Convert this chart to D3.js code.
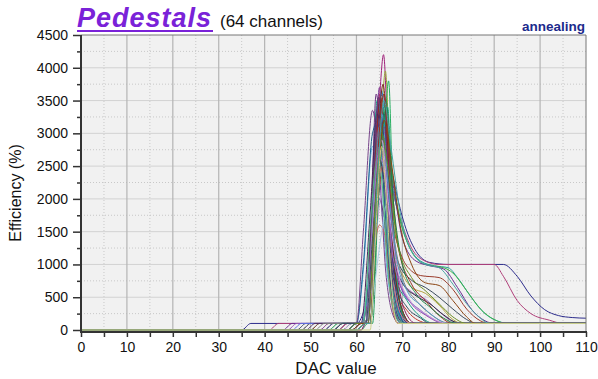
<!DOCTYPE html>
<html><head><meta charset="utf-8">
<script src="https://cdn.jsdelivr.net/npm/d3@7"></script>
<style>
html,body{margin:0;padding:0;background:#fff;}
text{font-family:"Liberation Sans",Arial,sans-serif;}
</style></head>
<body><svg id="c" width="598" height="379"></svg>
<script>
const titleMain = "Pedestals";
const titleSub = "(64 channels)";
const tagText = "annealing";
const xLabel = "DAC value";
const yLabel = "Efficiency (%)";
const xTicks = [0,10,20,30,40,50,60,70,80,90,100,110];
const xMinor = [5,15,25,35,45,55,65,75,85,95,105];
const yTicks = [0,500,1000,1500,2000,2500,3000,3500,4000,4500];
const yMinor = [250,750,1250,1750,2250,2750,3250,3750,4250];

// 64 channels, [DAC, efficiency] points
const channels = [
[[0,0],[35,0],[37,100],[60,100],[62,400],[64,2600],[65.5,3300],[67,2700],[69,2000],[71,1500],[73,1200],[76,1030],[80,1000],[92,1000],[95,820],[98,520],[101,310],[104,220],[107,190],[110,180]],
[[0,0],[41,0],[43,100],[61,100],[63,800],[65,3000],[66.5,2700],[68,2100],[70,1600],[72,1250],[75,1050],[78,1000],[90,1000],[92,820],[95,450],[98,250],[102,150],[105,100],[110,100]],
[[0,0],[50,0],[52,100],[62,100],[64,2000],[65.5,3100],[67,2500],[69,1800],[71,1350],[74,1050],[77,980],[80,950],[82,800],[85,500],[88,250],[91,130],[93,100],[110,100]],
[[0,0],[55,0],[57,100],[62,100],[64,1800],[66,3200],[67.5,2500],[69.5,1700],[72,1200],[75,1000],[79,950],[81,870],[84,600],[87,320],[90,160],[93,100],[110,100]],
[[0,0],[44,0],[46,100],[61.5,100],[63,1500],[64.5,3400],[65.8,3600],[67,2700],[68.5,2000],[70,1400],[73,1050],[76,980],[79,930],[82,650],[85,320],[88,140],[90,100],[110,100]],
[[0,0],[50,0],[52,100],[62,100],[63.5,1800],[65,3000],[66.5,2400],[68,1600],[70,1100],[72,900],[74,830],[78,800],[81,620],[84,320],[87,140],[89,100],[110,100]],
[[0,0],[47,0],[49,100],[62,100],[64,2500],[65.5,3200],[67,2000],[69,1050],[72,760],[75,650],[78,500],[81,320],[84,160],[86,100],[110,100]],
[[0,0],[52,0],[54,100],[62,100],[63.5,1700],[65,2900],[66.5,2000],[68,1200],[70,850],[72,650],[75,560],[78,380],[81,160],[83,100],[110,100]],
[[0,0],[45,0],[47,100],[62,100],[64,2200],[65.5,3100],[67,2000],[69,850],[72,580],[75,470],[78,280],[81,130],[83,100],[110,100]],
[[0,0],[48,0],[50,100],[62,100],[63.5,1900],[65,3300],[66.5,2300],[68,1100],[70,720],[73,520],[76,400],[79,230],[82,110],[84,100],[110,100]],
[[0,0],[46,0],[48,100],[61,100],[63,900],[65,2900],[66,2500],[68,1200],[70,600],[73,350],[76,200],[79,100],[110,100]],
[[0,0],[52,0],[54,100],[62,100],[64,1500],[65.5,3400],[67,1900],[69,800],[72,400],[75,230],[78,120],[80,100],[110,100]],
[[0,0],[56,0],[58,100],[61,100],[63,1200],[64.5,3500],[66,2300],[68,900],[71,450],[74,200],[77,100],[110,100]],
[[0,0],[57,0],[59,100],[62,100],[64,2200],[65,3600],[66.5,2100],[68,700],[71,300],[74,130],[76,100],[110,100]],
[[0,0],[58,0],[60,100],[62,100],[63.5,1500],[65,3000],[66,2000],[67.5,600],[69,150],[70,100],[110,100]],
[[0,0],[59,0],[61,100],[62,100],[64,2500],[65,3700],[66,2400],[68,500],[70,100],[110,100]],
[[0,0],[53,0],[55,100],[60,100],[61.5,900],[63.5,2800],[65,2200],[67,700],[69,150],[70,100],[110,100]],
[[0,0],[54,0],[56,100],[62,100],[63,700],[65,2600],[66,3100],[67,1800],[69,400],[71,100],[110,100]],
[[0,0],[56,0],[58,100],[62,100],[64,2300],[65,3500],[65.9,4200],[67,2500],[68,1000],[70,250],[72,100],[110,100]],
[[0,0],[60,0],[62,100],[63,100],[64,1500],[65.5,3300],[66.3,3950],[67.5,2000],[69,500],[71,100],[110,100]],
[[0,0],[60,0],[62,100],[63,100],[65,2400],[66.3,3300],[67,3800],[68,1800],[69.5,400],[71,100],[110,100]],
[[0,0],[58,0],[60,100],[62,100],[63,1200],[64.3,3600],[65.5,2700],[67,900],[69,200],[70,100],[110,100]],
[[0,0],[55,0],[57,100],[60,100],[61.5,1000],[63.5,3000],[64.8,3200],[66.5,1500],[68,400],[70,100],[110,100]],
[[0,0],[57,0],[59,100],[62,100],[63.5,1800],[65,3300],[66,2800],[67.5,900],[69.5,200],[71,100],[110,100]],
[[0,0],[59,0],[61,100],[62,100],[63.5,1000],[65,2300],[66,2800],[67,1600],[69,300],[70,100],[110,100]],
[[0,0],[61,0],[62,100],[63,100],[64,1400],[65.5,2900],[66.5,2600],[68,800],[70,150],[71,100],[110,100]],
[[0,0],[58,0],[60,100],[61,100],[62.5,800],[64,2100],[65,2700],[66,1600],[68,300],[69,100],[110,100]],
[[0,0],[49,0],[51,100],[62,100],[63.5,2000],[65,3450],[66,2900],[67.5,1100],[69,250],[70.5,100],[110,100]],
[[0,0],[56,0],[58,100],[62,100],[64,2600],[65.3,3550],[66.5,2200],[68,600],[70,100],[110,100]],
[[0,0],[60,0],[62,100],[63,100],[64.5,1800],[66,3000],[67,2200],[68.5,700],[70,150],[71,100],[110,100]],
[[0,0],[57,0],[59,100],[62,100],[63.5,1400],[64.8,2500],[66,1800],[67.5,500],[69,100],[110,100]],
[[0,0],[58,0],[60,100],[62,100],[63.5,1200],[65,2000],[66,1700],[67.5,600],[69,150],[70,100],[110,100]],
[[0,0],[59,0],[61,100],[62,100],[64,1900],[65.5,3650],[66.5,2600],[68,900],[69.5,200],[71,100],[110,100]],
[[0,0],[55,0],[57,100],[60,100],[61.5,1500],[63.5,3350],[65,2400],[66.5,800],[68.5,150],[69.5,100],[110,100]],
[[0,0],[60,0],[62,100],[63,100],[64,1300],[65.2,2300],[66.5,3100],[68,1200],[70,300],[72,100],[110,100]],
[[0,0],[61,0],[62.5,100],[63.5,100],[65,2500],[66.5,3500],[67.5,2100],[69,600],[71,120],[72,100],[110,100]],
[[0,0],[57,0],[59,100],[62,100],[63.5,900],[65,1900],[66,2300],[67.5,1000],[69.5,250],[71,100],[110,100]],
[[0,0],[58,0],[60,100],[62,100],[64,2000],[65,2900],[66,3300],[67,2300],[68.5,700],[70.5,100],[110,100]],
[[0,0],[59,0],[61,100],[62,100],[63.5,1600],[65,2700],[66.3,2200],[68,500],[70,100],[110,100]],
[[0,0],[53,0],[55,100],[61,100],[63,1800],[64.5,3300],[66,2500],[67.5,900],[69.5,150],[71,100],[110,100]],
[[0,0],[60,0],[62,100],[63,100],[64.5,1700],[65.8,3000],[66.8,3400],[68,1500],[70,300],[72,100],[110,100]],
[[0,0],[56,0],[58,100],[62,100],[63.5,1000],[65,1600],[66,1500],[67.5,500],[69,100],[110,100]],
[[0,0],[61,0],[62,100],[63,100],[64,700],[65.5,1500],[66.5,1900],[68,900],[70,200],[71.5,100],[110,100]],
[[0,0],[58,0],[60,100],[62,100],[63.5,2000],[64.8,3550],[66,2700],[67.5,1000],[69,250],[70.5,100],[110,100]],
[[0,0],[57,0],[59,100],[62,100],[64,2300],[65.5,3200],[66.5,2400],[68,800],[70,150],[71,100],[110,100]],
[[0,0],[59,0],[61,100],[63,100],[64.5,2600],[65.8,3750],[66.8,2800],[68,1200],[70,300],[72,100],[110,100]],
[[0,0],[54,0],[56,100],[61.5,100],[63,1600],[64.5,2600],[65.5,2300],[67,800],[69,150],[70,100],[110,100]],
[[0,0],[60,0],[62,100],[62.5,100],[64,1500],[65.5,2600],[66.5,2300],[68,900],[70,200],[72,100],[110,100]],
[[0,0],[58,0],[60,100],[62,100],[63.5,1300],[65,2800],[66,3000],[67.5,1300],[69.5,300],[71.5,100],[110,100]],
[[0,0],[61,0],[62,100],[63,100],[64.5,2000],[66,3100],[67,2500],[68.5,1100],[70.5,300],[73,100],[110,100]],
[[0,0],[57,0],[59,100],[62,100],[63,1000],[64.5,2400],[65.5,2900],[67,1200],[69,250],[70.5,100],[110,100]],
[[0,0],[59,0],[61,100],[62.5,100],[64,2100],[65.3,3300],[66.3,2700],[68,900],[70,200],[71.5,100],[110,100]],
[[0,0],[60,0],[62,100],[63,100],[64,1300],[65.5,2500],[66.5,2100],[68,800],[70,200],[72,100],[110,100]],
[[0,0],[51,0],[53,100],[62,100],[63.5,1700],[65,3100],[66.5,2500],[68,1500],[70,800],[73,450],[76,250],[79,120],[81,100],[110,100]],
[[0,0],[58,0],[60,100],[62,100],[64,2200],[65.5,3300],[67,2100],[69,1000],[71,600],[74,380],[77,200],[80,100],[110,100]],
[[0,0],[59,0],[61,100],[63,100],[64.5,2500],[66,3600],[67.5,2400],[69,1300],[72,700],[75,450],[78,220],[81,100],[110,100]],
[[0,0],[56,0],[58,100],[62,100],[63.5,1600],[65,2800],[66.5,2200],[68,1100],[71,500],[74,300],[77,150],[79,100],[110,100]],
[[0,0],[60,0],[62,100],[63,100],[65,2400],[66.5,3400],[68,2000],[70,1000],[73,550],[76,350],[79,180],[82,100],[110,100]],
[[0,0],[57,0],[59,100],[62,100],[64,2000],[65.5,2900],[67,1900],[69,900],[72,420],[75,250],[78,130],[80,100],[110,100]],
[[0,0],[55,0],[57,100],[62,100],[63.5,1400],[65,2600],[66.5,2000],[68,800],[71,350],[74,180],[76,100],[110,100]],
[[0,0],[58,0],[60,100],[62.5,100],[64,1800],[65.5,3000],[67,2400],[69,1300],[72,800],[75,600],[78,400],[81,200],[84,100],[110,100]],
[[0,0],[59,0],[61,100],[63,100],[64.5,2000],[66,3200],[67.5,2600],[69.5,1600],[72,1000],[75,720],[78,680],[81,450],[84,200],[86,100],[110,100]],
[[0,0],[60,0],[62,100],[63,100],[64.5,2200],[66,3500],[67.5,2800],[69.5,1800],[72,1200],[75,1000],[78,950],[81,700],[84,400],[87,180],[89,100],[110,100]],
[[0,0],[63,0],[64,1200],[65.5,2800],[66.5,2000],[68,400],[69,100],[110,100]]
];

const lineColors = ["#2c2c8c","#b0407a","#2a9d9a","#3cb44b","#6a2c91","#9a3b2b","#3a4a5a","#b5a642",
"#9b59b6","#2b2b3b","#5b6ee1","#8e44ad","#16a085","#c0392b","#2980b9","#7d3c98",
"#5dade2","#1e8449","#a0207a","#9aa83a","#27ae60","#6c3483","#1f618d","#b03a2e",
"#48c9b0","#884ea0","#85c1e9","#512e5f","#922b21","#117a65","#aab7b8","#5b2c6f",
"#2e86c1","#76448a","#a93226","#239b56","#c39bd3","#1a5276","#7fb3d5","#4a235a",
"#17a589","#cd6155","#a9cce3","#633974","#2874a6","#78281f","#52be80","#af7ac5",
"#154360","#8e1e5e","#45b39d","#3e2c8f","#d98880","#7b7d7d","#5499c7","#943126",
"#a569bd","#1d8348","#c9a0dc","#34495e","#6b8e23","#8b4513","#4aa3a3","#cfd08a"];

const svg = d3.select("#c");
const L = 81, R = 586, T = 35, B = 332;
const x = d3.scaleLinear().domain([0,110]).range([L,R]);
const y = d3.scaleLinear().domain([0,4500]).range([330,T]);

// plot background
svg.append("rect").attr("x",L).attr("y",T).attr("width",R-L).attr("height",B-T).attr("fill","#f1f1f1");

// grid
const g = svg.append("g");
g.selectAll(".vmin").data(xMinor).join("line")
  .attr("x1",d=>x(d)).attr("x2",d=>x(d)).attr("y1",T).attr("y2",B)
  .attr("stroke","#c8c8c8").attr("stroke-dasharray","1,2");
g.selectAll(".hmin").data(yMinor).join("line")
  .attr("x1",L).attr("x2",R).attr("y1",d=>y(d)).attr("y2",d=>y(d))
  .attr("stroke","#c8c8c8").attr("stroke-dasharray","1,2");
g.selectAll(".hmaj").data(yTicks.filter(d=>d>0 && d<4500)).join("line")
  .attr("x1",L).attr("x2",R).attr("y1",d=>y(d)).attr("y2",d=>y(d))
  .attr("stroke","#d2d2d2");
g.selectAll(".vmaj").data(xTicks.filter(d=>d>0 && d<110)).join("line")
  .attr("x1",d=>x(d)).attr("x2",d=>x(d)).attr("y1",T).attr("y2",B)
  .attr("stroke","#b4b4b4").attr("stroke-width",1.2);

// curves
svg.append("clipPath").attr("id","clip").append("rect")
  .attr("x",L).attr("y",T).attr("width",R-L).attr("height",B-T);
const line = d3.line().x(d=>x(d[0])).y(d=>y(d[1])).curve(d3.curveMonotoneX);
svg.append("g").attr("clip-path","url(#clip)")
  .selectAll("path").data(channels).join("path")
  .attr("d",line).attr("fill","none")
  .attr("stroke",(d,i)=>lineColors[i]).attr("stroke-width",1);

// frame top/right
svg.append("line").attr("x1",L).attr("x2",R).attr("y1",T).attr("y2",T).attr("stroke","#777");
svg.append("line").attr("x1",R).attr("x2",R).attr("y1",T).attr("y2",B).attr("stroke","#777");

// axes
const yAx = svg.append("g").attr("transform",`translate(${L},0)`)
  .call(d3.axisLeft(y).tickValues(yTicks).tickSize(8).tickPadding(5).tickFormat(d3.format("d")));
const yAxM = svg.append("g").attr("transform",`translate(${L},0)`)
  .call(d3.axisLeft(y).tickValues(yMinor).tickSize(4).tickFormat(""));
const xAx = svg.append("g").attr("transform",`translate(0,${B})`)
  .call(d3.axisBottom(x).tickValues(xTicks).tickSize(5).tickPadding(5).tickFormat(d3.format("d")));
const xAxM = svg.append("g").attr("transform",`translate(0,${B})`)
  .call(d3.axisBottom(x).tickValues(xMinor).tickSize(5).tickFormat(""));
[yAx,yAxM,xAx,xAxM].forEach(a=>{
  a.select(".domain").remove();
  a.selectAll("line").attr("stroke","#333").attr("stroke-width",1.5);
  a.selectAll("text").attr("font-size",14).attr("fill","#111").attr("font-family","'Liberation Sans',Arial,sans-serif");
});
svg.append("line").attr("x1",L).attr("x2",L).attr("y1",T).attr("y2",B+1).attr("stroke","#333").attr("stroke-width",2);
svg.append("line").attr("x1",L-1).attr("x2",R+1).attr("y1",B).attr("y2",B).attr("stroke","#333").attr("stroke-width",2);

// labels
svg.append("text").attr("x",336).attr("y",374).attr("text-anchor","middle")
  .attr("font-size",17).attr("fill","#111").text(xLabel);
svg.append("text").attr("transform","translate(21,193) rotate(-90)").attr("text-anchor","middle")
  .attr("font-size",16).attr("fill","#111").text(yLabel);

// title
const tcol = "#7a22d8";
svg.append("text").attr("x",77).attr("y",27)
  .attr("font-family","'Liberation Sans',Arial,sans-serif").attr("font-weight","bold").attr("font-style","italic")
  .attr("font-size",27).attr("fill",tcol)
  .attr("textLength",134).attr("lengthAdjust","spacing").text(titleMain);
svg.append("line").attr("x1",77).attr("x2",213).attr("y1",31).attr("y2",31)
  .attr("stroke",tcol).attr("stroke-width",2);
svg.append("text").attr("x",220).attr("y",27).attr("font-size",17).attr("fill","#111").text(titleSub);
svg.append("text").attr("x",585).attr("y",31).attr("text-anchor","end")
  .attr("font-size",13.5).attr("font-weight","bold").attr("fill","#1c2a8c").text(tagText);
</script></body></html>
